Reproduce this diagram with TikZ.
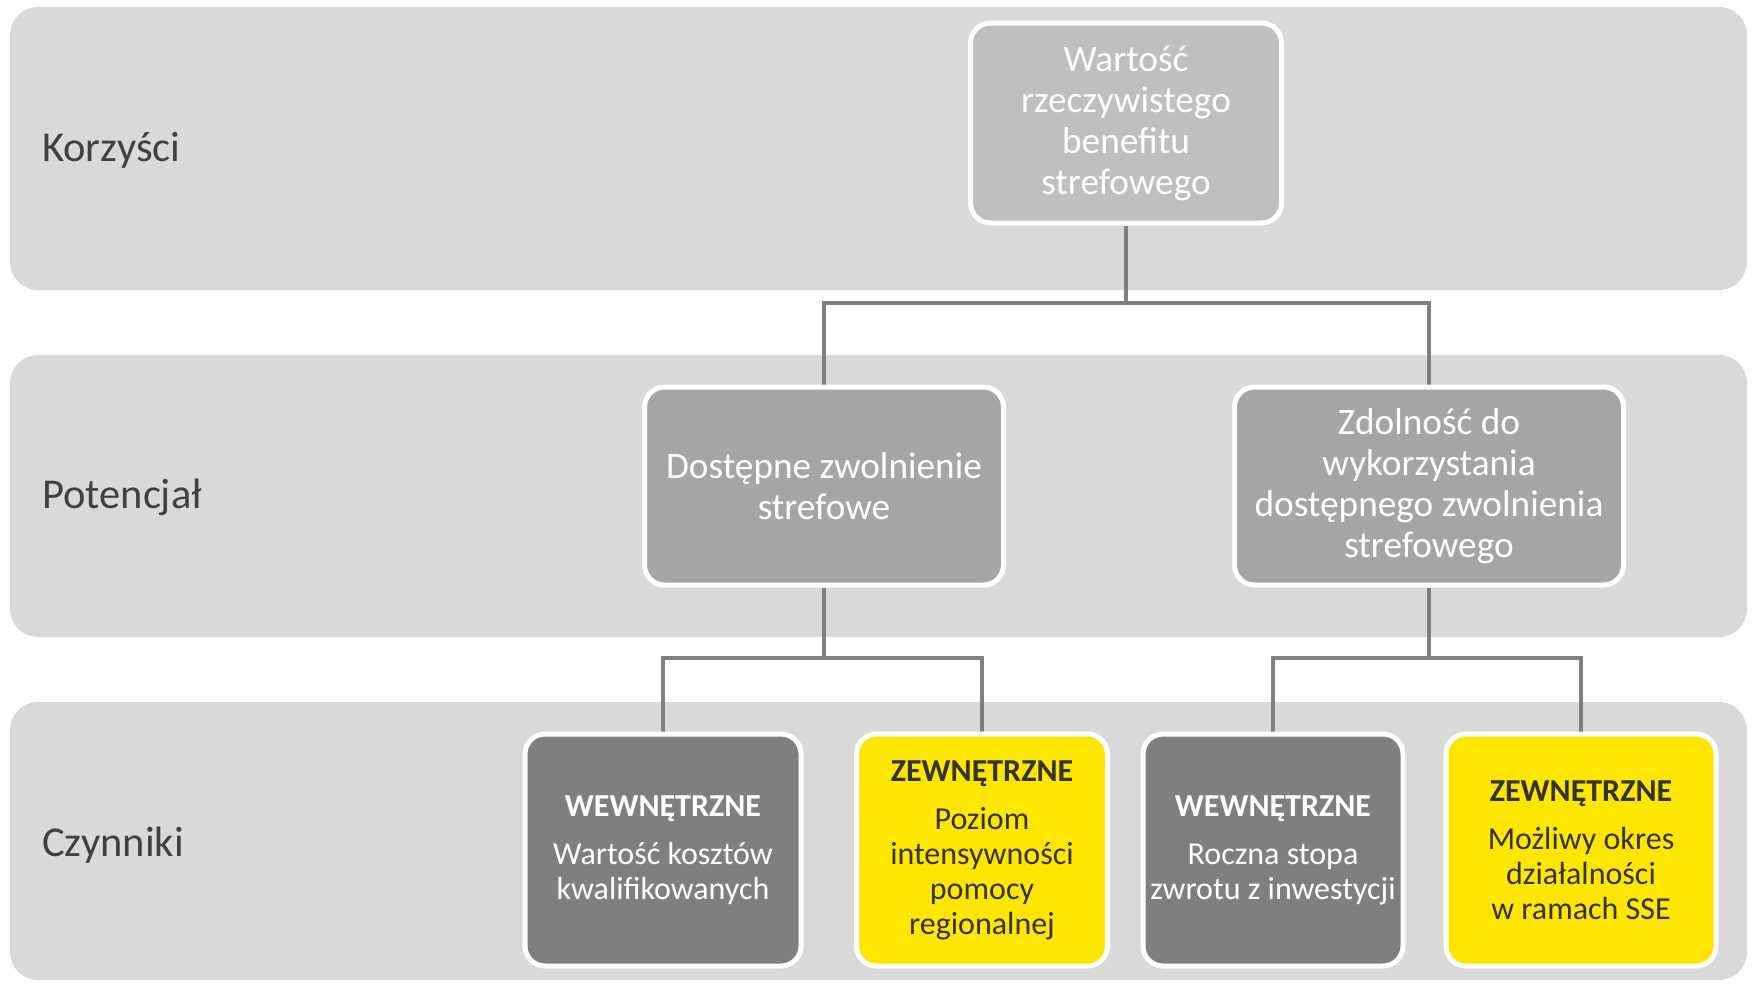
\documentclass[tikz,border=0pt]{standalone}
\usepackage{fontspec}
\setmainfont{Carlito}
\usetikzlibrary{calc}
\definecolor{bandgray}{HTML}{D9D9D9}
\definecolor{topgray}{HTML}{BFBFBF}
\definecolor{midgray}{HTML}{A5A5A5}
\definecolor{darkgray}{HTML}{7F7F7F}
\definecolor{eyyellow}{HTML}{FFE600}
\definecolor{labeltext}{HTML}{404040}
\definecolor{darktext}{HTML}{333333}
\definecolor{conncolor}{HTML}{7F7F7F}
\pgfdeclarelayer{bands}
\pgfdeclarelayer{lines}
\pgfsetlayers{bands,lines,main}
\begin{document}
\begin{tikzpicture}[x=1pt,y=-1pt,
  band/.style={fill=bandgray, draw=none, rounded corners=28pt},
  rowlabel/.style={anchor=west, text=labeltext, font=\fontsize{42.5}{50}\selectfont, inner sep=0pt},
  box/.style={draw=white, line width=5pt, rounded corners=20pt, align=center, inner sep=4pt},
  bigtext/.style={font=\fontsize{37.3}{41}\selectfont, text=white},
  smalltext/.style={font=\fontsize{32}{35}\selectfont},
  conn/.style={draw=conncolor, line width=4pt}
]
\useasboundingbox (0,0) rectangle (1753,983);

\begin{pgfonlayer}{bands}
  \fill[band] (10,7) rectangle (1747,290);
  \fill[band] (10,355) rectangle (1747,637);
  \fill[band] (10,702) rectangle (1747,980);
\end{pgfonlayer}

\node[rowlabel] (l1) at (42,150) {Korzyści};
\node[rowlabel] (l2) at (42,497) {Potencjał};
\node[rowlabel] (l3) at (42,845) {Czynniki};

\node[box, bigtext, fill=topgray, minimum width=311pt, minimum height=200pt] (top) at (1126,123)
  {Wartość\\rzeczywistego\\benefitu\\strefowego};

\node[box, bigtext, fill=midgray, minimum width=359pt, minimum height=198pt] (ml) at (824,486)
  {Dostępne zwolnienie\\strefowe};
\node[box, bigtext, fill=midgray, minimum width=389pt, minimum height=198pt] (mr) at (1429,486)
  {Zdolność do\\wykorzystania\\dostępnego zwolnienia\\strefowego};

\node[box, smalltext, text=white, fill=darkgray, minimum width=276pt, minimum height=232pt] (b1) at (663,850)
  {\textbf{WEWNĘTRZNE}\\[13pt]Wartość kosztów\\kwalifikowanych};
\node[box, smalltext, text=darktext, fill=eyyellow, minimum width=251pt, minimum height=232pt] (b2) at (982,850)
  {\textbf{ZEWNĘTRZNE}\\[13pt]Poziom\\intensywności\\pomocy\\regionalnej};
\node[box, smalltext, text=white, fill=darkgray, minimum width=260pt, minimum height=232pt] (b3) at (1273,850)
  {\textbf{WEWNĘTRZNE}\\[13pt]Roczna stopa\\zwrotu z inwestycji};
\node[box, smalltext, text=darktext, fill=eyyellow, minimum width=270pt, minimum height=232pt] (b4) at (1581,850)
  {\textbf{ZEWNĘTRZNE}\\[13pt]Możliwy okres\\działalności\\w ramach SSE};

\coordinate (j1) at (1126,303);
\coordinate (j2) at (824,658);
\coordinate (j3) at (1429,658);

\begin{pgfonlayer}{lines}
  \draw[conn] (top.south) -- (top.south |- j1) -| (ml.north);
  \draw[conn] (top.south |- j1) -| (mr.north);
  \draw[conn] (ml.south) -- (ml.south |- j2) -| (b1.north);
  \draw[conn] (ml.south |- j2) -| (b2.north);
  \draw[conn] (mr.south) -- (mr.south |- j3) -| (b3.north);
  \draw[conn] (mr.south |- j3) -| (b4.north);
\end{pgfonlayer}
\end{tikzpicture}
\end{document}
